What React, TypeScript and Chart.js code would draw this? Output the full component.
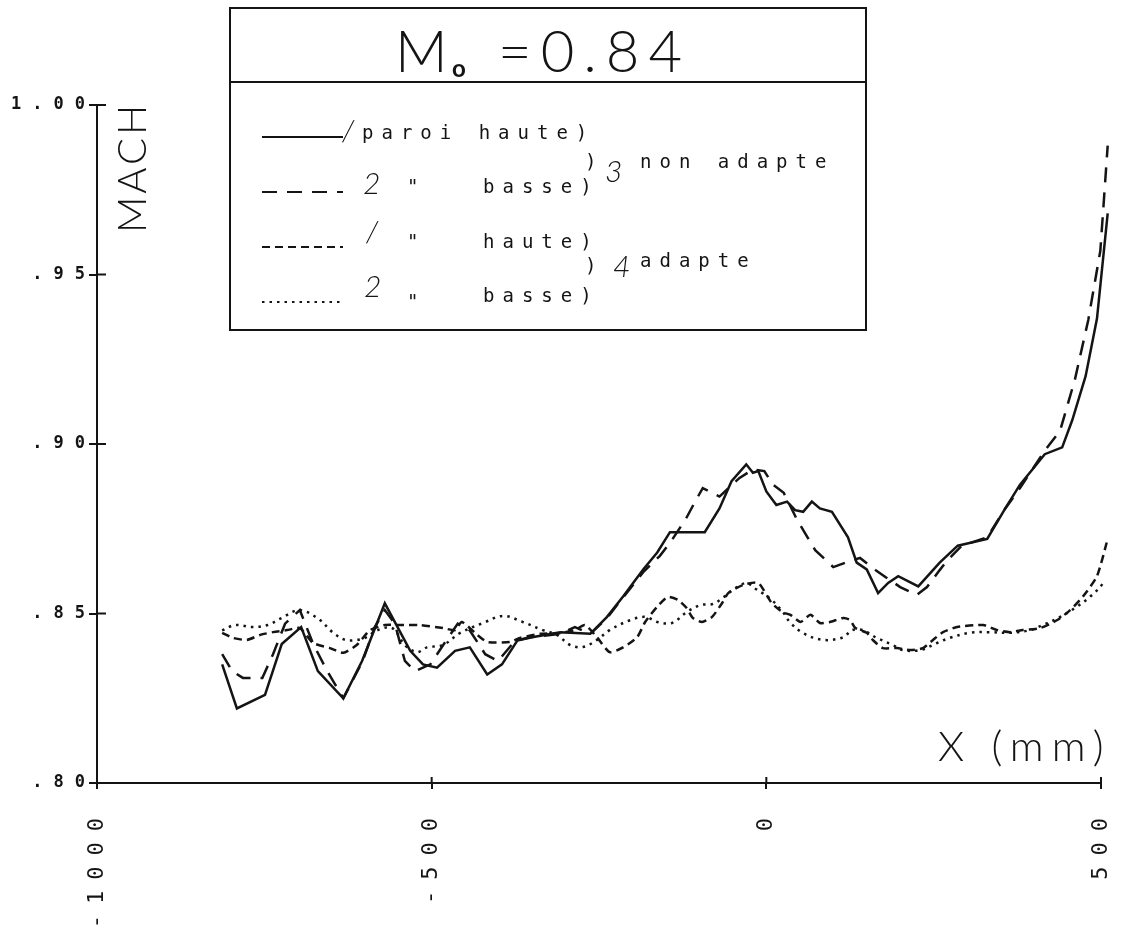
import { useEffect, useRef } from "react";
import { Chart, registerables } from "chart.js";

Chart.register(...registerables);

// Axis ticks
const xTickValues = [-1000, -500, 0, 500];
const xTickLabels = ["-1000", "-500", "0", "500"];
const yTickValues = [0.8, 0.85, 0.9, 0.95, 1.0];
const yTickLabels = [".80", ".85", ".90", ".95", "1.00"];

// Paroi 1 (haute), veine non adaptée — trait plein
const hauteNonAdapteX = [-813, -791, -749, -724, -695, -670, -632, -604, -570, -532, -513, -492, -465, -443, -417, -395, -372, -350, -308, -263, -238, -214, -184, -163, -144, -92, -70, -52, -30, -20, -12, 0, 15, 31, 43, 55, 68, 80, 98, 122, 135, 150, 167, 182, 197, 227, 259, 286, 330, 357, 379, 416, 442, 457, 477, 494, 510];
const hauteNonAdapteMach = [0.835, 0.822, 0.826, 0.841, 0.846, 0.833, 0.825, 0.836, 0.853, 0.839, 0.835, 0.834, 0.839, 0.84, 0.832, 0.835, 0.842, 0.843, 0.8445, 0.844, 0.849, 0.855, 0.863, 0.868, 0.874, 0.874, 0.881, 0.889, 0.894, 0.8915, 0.892, 0.886, 0.882, 0.883, 0.8805, 0.88, 0.883, 0.881, 0.88, 0.8725, 0.865, 0.863, 0.856, 0.859, 0.861, 0.858, 0.865, 0.87, 0.872, 0.881, 0.888, 0.897, 0.899, 0.907, 0.92, 0.937, 0.968];

// Paroi 2 (basse), veine non adaptée — tirets longs
const basseNonAdapteX = [-813, -798, -782, -753, -737, -719, -697, -677, -656, -632, -603, -585, -570, -555, -540, -525, -502, -480, -461, -443, -420, -401, -375, -353, -308, -286, -263, -238, -211, -184, -159, -141, -120, -105, -95, -70, -40, -20, -3, 10, 26, 46, 73, 100, 121, 140, 159, 180, 200, 225, 240, 259, 271, 292, 330, 357, 379, 416, 439, 461, 481, 499, 510];
const basseNonAdapteMach = [0.838, 0.833, 0.831, 0.831, 0.838, 0.847, 0.851, 0.841, 0.833, 0.825, 0.836, 0.846, 0.851, 0.847, 0.836, 0.833, 0.835, 0.8415, 0.847, 0.845, 0.838, 0.836, 0.842, 0.843, 0.844, 0.846, 0.844, 0.8487, 0.8555, 0.8622, 0.867, 0.8717, 0.878, 0.8835, 0.887, 0.8845, 0.89, 0.8925, 0.892, 0.888, 0.8856, 0.8776, 0.8687, 0.8637, 0.8652, 0.8664, 0.8634, 0.8605, 0.8578, 0.8555, 0.8578, 0.8628, 0.8658, 0.87, 0.8725, 0.881, 0.887, 0.898, 0.904, 0.919, 0.9366, 0.957, 0.988];

// Paroi 1 (haute), veine adaptée — tirets courts
const hauteAdapteX = [-813, -797, -776, -756, -737, -716, -697, -677, -652, -632, -612, -592, -570, -547, -517, -483, -465, -455, -432, -417, -383, -368, -338, -308, -286, -271, -253, -234, -214, -193, -181, -163, -147, -132, -119, -110, -96, -81, -66, -57, -35, -12, 8, 24, 36, 51, 66, 80, 95, 115, 125, 133, 150, 159, 174, 195, 215, 234, 249, 264, 285, 324, 345, 364, 383, 409, 434, 454, 473, 494, 510];
const hauteAdapteMach = [0.8443, 0.8428, 0.8422, 0.8437, 0.8445, 0.8451, 0.8457, 0.8413, 0.8398, 0.8384, 0.8407, 0.8451, 0.8466, 0.8466, 0.8466, 0.8457, 0.8451, 0.8475, 0.8437, 0.8416, 0.8416, 0.8428, 0.844, 0.8442, 0.8451, 0.8466, 0.843, 0.8386, 0.84, 0.843, 0.8475, 0.852, 0.8549, 0.854, 0.8516, 0.8487, 0.8475, 0.849, 0.8531, 0.856, 0.8584, 0.859, 0.8531, 0.8504, 0.8496, 0.8475, 0.8496, 0.8472, 0.8475, 0.8487, 0.8481, 0.8457, 0.8443, 0.8422, 0.8398, 0.8398, 0.8392, 0.8398, 0.8422, 0.8445, 0.846, 0.8466, 0.8451, 0.8445, 0.8451, 0.8457, 0.848, 0.851, 0.855, 0.861, 0.872];

// Paroi 2 (basse), veine adaptée — pointillés
const basseAdapteX = [-813, -794, -767, -745, -724, -698, -671, -647, -629, -612, -597, -582, -559, -540, -522, -507, -483, -458, -423, -393, -364, -334, -313, -293, -274, -253, -234, -204, -181, -163, -141, -119, -98, -80, -65, -50, -30, -18, -8, 8, 25, 35, 55, 85, 115, 128, 144, 165, 189, 204, 230, 255, 274, 304, 334, 364, 394, 413, 439, 464, 484, 503, 510];
const basseAdapteMach = [0.845, 0.8466, 0.846, 0.8466, 0.8487, 0.851, 0.8487, 0.8443, 0.8422, 0.8422, 0.843, 0.845, 0.8457, 0.8407, 0.8386, 0.84, 0.8407, 0.8442, 0.8472, 0.8493, 0.8475, 0.8451, 0.8437, 0.8407, 0.8401, 0.8422, 0.8451, 0.848, 0.849, 0.8475, 0.8472, 0.8504, 0.8525, 0.8528, 0.8546, 0.857, 0.859, 0.8575, 0.8563, 0.854, 0.8504, 0.8475, 0.8442, 0.8422, 0.843, 0.8451, 0.8451, 0.8428, 0.8407, 0.8392, 0.8392, 0.8413, 0.8428, 0.8443, 0.8445, 0.8443, 0.8451, 0.8466, 0.849, 0.852, 0.855, 0.859, 0.864];

const ink = "#141414";
const monoFont = "'DejaVu Sans Mono', monospace";
const thinFont = "Lato, 'DejaVu Sans', sans-serif";

const setSpacing = (ctx: CanvasRenderingContext2D, px: number) => {
  (ctx as any).letterSpacing = `${px}px`;
};

// Wide plotter-style spacing for the tick labels
const tickSpacingPlugin = {
  id: "tickSpacing",
  beforeDraw(chart: Chart) {
    setSpacing(chart.ctx, 11);
  },
};

// Tick marks crossing the axes, legend frame, title and axis names
const decorPlugin = {
  id: "decor",
  afterDraw(chart: Chart) {
    const ctx = chart.ctx;
    const area = chart.chartArea;
    const xs: any = chart.scales.x;
    const ys: any = chart.scales.y;
    ctx.save();
    ctx.strokeStyle = ink;
    ctx.fillStyle = ink;
    ctx.lineWidth = 2;
    ctx.setLineDash([]);

    ctx.beginPath();
    ys.ticks.forEach((_t: any, i: number) => {
      const py = ys.getPixelForTick(i);
      ctx.moveTo(area.left, py);
      ctx.lineTo(area.left + 9, py);
    });
    xs.ticks.forEach((_t: any, i: number) => {
      const px = xs.getPixelForTick(i);
      ctx.moveTo(px, area.bottom);
      ctx.lineTo(px, area.bottom - 6);
    });
    ctx.stroke();

    // Y axis name, vertical
    setSpacing(ctx, 3);
    ctx.font = `300 40px ${thinFont}`;
    ctx.textBaseline = "middle";
    ctx.textAlign = "left";
    ctx.save();
    ctx.translate(133, 233);
    ctx.rotate(-Math.PI / 2);
    ctx.fillText("MACH", 0, 0);
    ctx.restore();

    // X axis name
    setSpacing(ctx, 8);
    ctx.font = `300 42px ${thinFont}`;
    ctx.textBaseline = "alphabetic";
    ctx.fillText("X (mm)", 938, 761);

    // Legend frame
    ctx.lineWidth = 2;
    ctx.strokeRect(230, 8, 636, 322);
    ctx.beginPath();
    ctx.moveTo(230, 82);
    ctx.lineTo(866, 82);
    ctx.stroke();

    // Title M0 = 0.84
    setSpacing(ctx, 0);
    ctx.font = `300 58px ${thinFont}`;
    ctx.fillText("M", 395, 72);
    ctx.font = `bold 24px ${thinFont}`;
    ctx.fillText("o", 452, 77);
    setSpacing(ctx, 9);
    ctx.font = `300 58px ${thinFont}`;
    ctx.fillText("=0.84", 498, 72);

    // Legend samples drawn with each dataset's own dash pattern
    const rowY = [137, 192, 247, 302];
    chart.data.datasets.forEach((ds: any, i: number) => {
      ctx.save();
      ctx.lineWidth = 2;
      ctx.setLineDash(ds.borderDash || []);
      ctx.beginPath();
      ctx.moveTo(262, rowY[i]);
      ctx.lineTo(343, rowY[i]);
      ctx.stroke();
      ctx.restore();
    });

    // Legend wording
    setSpacing(ctx, 8);
    ctx.font = `19px ${monoFont}`;
    ctx.fillText("paroi haute)", 362, 139);
    ctx.fillText("basse)", 483, 193);
    ctx.fillText("haute)", 483, 248);
    ctx.fillText("basse)", 483, 302);
    ctx.fillText(")", 585, 168);
    ctx.fillText("non adapte", 640, 168);
    ctx.fillText(")", 585, 272);
    ctx.fillText("adapte", 640, 267);
    ctx.fillText("\"", 407, 193);
    ctx.fillText("\"", 407, 248);
    ctx.fillText("\"", 407, 308);

    // Hand-written wall and case numbers
    setSpacing(ctx, 0);
    ctx.font = `italic 300 30px ${thinFont}`;
    ctx.fillText("/", 342, 141);
    ctx.fillText("2", 363, 194);
    ctx.fillText("/", 366, 242);
    ctx.fillText("2", 364, 297);
    ctx.fillText("3", 605, 182);
    ctx.fillText("4", 613, 277);

    ctx.restore();
  },
};

const series = [
  { label: "1 paroi haute, non adapte", xs: hauteNonAdapteX, ys: hauteNonAdapteMach, dash: [] as number[], tension: 0 },
  { label: "2 paroi basse, non adapte", xs: basseNonAdapteX, ys: basseNonAdapteMach, dash: [15, 10], tension: 0 },
  { label: "1 paroi haute, adapte", xs: hauteAdapteX, ys: hauteAdapteMach, dash: [8, 5], tension: 0.2 },
  { label: "2 paroi basse, adapte", xs: basseAdapteX, ys: basseAdapteMach, dash: [2.5, 5], tension: 0.35 },
];

export default function App() {
  const canvasRef = useRef<HTMLCanvasElement>(null);

  useEffect(() => {
    const canvas = canvasRef.current;
    if (!canvas) return;
    const chart = new Chart(canvas, {
      type: "line",
      data: {
        datasets: series.map((s) => ({
          label: s.label,
          data: s.xs.map((x, i) => ({ x, y: s.ys[i] })),
          borderColor: ink,
          borderWidth: 2.5,
          borderDash: s.dash,
          pointRadius: 0,
          tension: s.tension,
          fill: false,
          clip: false as any,
        })),
      },
      options: {
        animation: false,
        responsive: false,
        devicePixelRatio: 1,
        layout: { padding: { top: 105, right: 31, left: 0, bottom: 0 } },
        plugins: {
          legend: { display: false },
          tooltip: { enabled: false },
          title: { display: false },
        },
        scales: {
          x: {
            type: "linear",
            min: -1000,
            max: 500,
            afterBuildTicks: (scale: any) => {
              scale.ticks = xTickValues.map((value) => ({ value }));
            },
            afterFit: (scale: any) => {
              scale.height = 157;
              scale.paddingLeft = 0;
              scale.paddingRight = 0;
            },
            ticks: {
              autoSkip: false,
              minRotation: 90,
              maxRotation: 90,
              padding: 18,
              color: ink,
              font: { family: monoFont, size: 22 },
              callback: (v: any) => {
                const i = xTickValues.indexOf(Number(v));
                return i >= 0 ? xTickLabels[i] : "";
              },
            },
            grid: { drawOnChartArea: false, drawTicks: true, tickLength: 6, color: ink, lineWidth: 2 },
            border: { display: true, color: ink, width: 2 },
          },
          y: {
            type: "linear",
            min: 0.8,
            max: 1.0,
            afterBuildTicks: (scale: any) => {
              scale.ticks = yTickValues.map((value) => ({ value }));
            },
            afterFit: (scale: any) => {
              scale.width = 97;
              scale.paddingTop = 0;
              scale.paddingBottom = 0;
            },
            ticks: {
              padding: -7,
              color: ink,
              font: { family: monoFont, size: 17, weight: "bold" },
              callback: (v: any) => {
                const i = Math.round((Number(v) - 0.8) / 0.05);
                return yTickLabels[i] ?? "";
              },
            },
            grid: { drawOnChartArea: false, drawTicks: true, tickLength: 8, color: ink, lineWidth: 2 },
            border: { display: true, color: ink, width: 2 },
          },
        },
      },
      plugins: [tickSpacingPlugin, decorPlugin],
    });
    return () => chart.destroy();
  }, []);

  return (
    <div style={{ position: "absolute", left: 0, top: 0, width: 1132, height: 940, background: "#fff" }}>
      <canvas ref={canvasRef} width={1132} height={940} style={{ display: "block" }} />
    </div>
  );
}
